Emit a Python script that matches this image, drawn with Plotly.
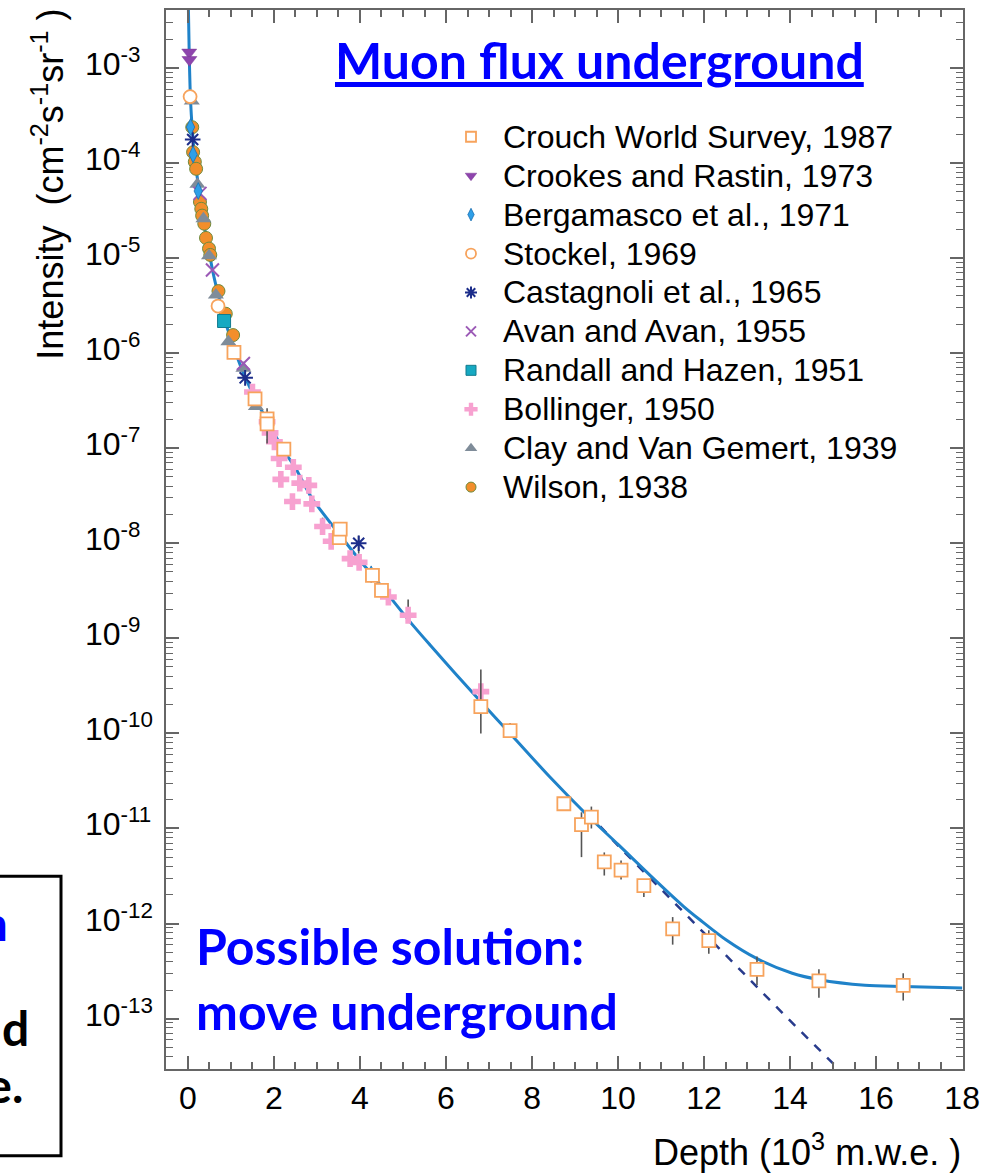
import plotly.graph_objects as go

# ---------------- data ----------------
crouch_x = [1.07, 1.56, 1.84, 1.84, 2.23, 3.52, 3.54, 4.29, 4.50, 6.81, 7.49, 8.74, 9.15, 9.38,
            9.68, 10.07, 10.60, 11.27, 12.11, 13.23, 14.67, 16.63]
crouch_y = [1.02e-6, 3.3e-7, 2.04e-7, 1.8e-7, 9.8e-8, 1.15e-8, 1.41e-8, 4.6e-9, 3.2e-9, 1.91e-10,
            1.07e-10, 1.82e-11, 1.1e-11, 1.32e-11, 4.45e-12, 3.65e-12, 2.5e-12, 8.8e-13, 6.6e-13,
            3.3e-13, 2.5e-13, 2.24e-13]
crouch_hi = [None, None, None, 2.63e-7, None, None, None, None, None, 4.7e-10,
             1.29e-10, 2.0e-11, 1.48e-11, 1.7e-11, 5.6e-12, 4.6e-12, 2.95e-12, 1.17e-12, 8.5e-13,
             4.5e-13, 3.3e-13, 3.0e-13]
crouch_lo = [None, None, None, 1.12e-7, None, None, None, None, None, 1.0e-10,
             9.1e-11, 1.65e-11, 5.0e-12, 1.0e-11, 3.2e-12, 2.9e-12, 1.9e-12, 6.0e-13, 4.8e-13,
             2.24e-13, 1.66e-13, 1.55e-13]

crookes_x = [0.03, 0.035]
crookes_y = [1.46e-3, 1.22e-3]

bergamasco_x = [0.06, 0.12, 0.24, 4.26]
bergamasco_y = [2.39e-4, 1.23e-4, 5.08e-5, 4.72e-9]

stockel_x = [0.05, 0.70]
stockel_y = [5.0e-4, 3.13e-6]

castagnoli_x = [0.11, 1.33, 3.97]
castagnoli_y = [1.77e-4, 5.5e-7, 1.0e-8]
castagnoli_hi = [None, None, 1.2e-8]
castagnoli_lo = [None, None, 7.8e-9]

avan_x = [0.28, 0.57, 1.29]
avan_y = [4.8e-5, 7.5e-6, 7.8e-7]

randall_x = [0.84]
randall_y = [2.18e-6]

bollinger_x = [1.50, 1.84, 1.91, 2.01, 2.12, 2.16, 2.45, 2.60, 2.81, 2.43, 2.88, 3.13, 3.33,
               3.77, 3.98, 4.66, 5.12, 6.81]
bollinger_y = [3.9e-7, 1.9e-7, 1.45e-7, 1.17e-7, 7.8e-8, 4.7e-8, 6.3e-8, 4.3e-8, 4.07e-8,
               2.75e-8, 2.6e-8, 1.5e-8, 1.05e-8, 6.9e-9, 6.3e-9, 2.72e-9, 1.75e-9, 2.75e-10]
bollinger_hi = [None] * 11 + [1.86e-8, None, 7.0e-9, None, None, 2.57e-9, None]
bollinger_lo = [None] * 11 + [1.23e-8, None, 5.75e-9, None, None, 1.51e-9, None]

clay_x = [0.09, 0.22, 0.36, 0.49, 0.65, 0.94, 1.29, 1.58]
clay_y = [4.5e-4, 6.0e-5, 2.6e-5, 1.06e-5, 4.1e-6, 1.32e-6, 6.95e-7, 2.75e-7]

wilson_x = [0.10, 0.12, 0.16, 0.19, 0.28, 0.31, 0.33, 0.38, 0.42, 0.49, 0.52, 0.71, 0.88, 1.05]
wilson_y = [2.38e-4, 1.3e-4, 1.03e-4, 8.7e-5, 3.9e-5, 3.3e-5, 2.8e-5, 2.3e-5, 1.63e-5, 1.26e-5,
            1.08e-5, 4.5e-6, 2.6e-6, 1.55e-6]

fit_x = [0.005, 0.03, 0.06, 0.10, 0.15, 0.20, 0.30, 0.40, 0.50, 0.60, 0.70, 0.85, 1.00, 1.30,
         1.60, 2.00, 2.24, 2.50, 2.88, 3.53, 4.00, 4.31, 5.16, 5.63, 6.21, 6.81, 7.49, 8.41,
         9.25, 10.00, 10.85, 11.52, 11.91, 12.50, 13.22, 14.05, 14.68, 15.74, 16.63, 18.00]
fit_y = [6e-3, 1.4e-3, 4.6e-4, 2.3e-4, 1.25e-4, 8.0e-5, 3.8e-5, 1.9e-5, 1.1e-5, 6.5e-6, 4.2e-6,
         2.3e-6, 1.4e-6, 6.0e-7, 3.1e-7, 1.45e-7, 9.3e-8, 6.2e-8, 3.0e-8, 1.23e-8, 6.6e-9,
         4.5e-9, 1.5e-9, 8.5e-10, 4.3e-10, 2.15e-10, 1.0e-10, 3.5e-11, 1.43e-11, 6.8e-12,
         2.9e-12, 1.52e-12, 1.09e-12, 6.8e-13, 4.3e-13, 3.0e-13, 2.57e-13, 2.25e-13, 2.18e-13,
         2.1e-13]

exp_x = [9.3, 10.0, 11.0, 12.0, 13.0, 14.0, 15.25]
exp_y = [1.45e-11, 6.6e-12, 2.3e-12, 7.9e-13, 2.75e-13, 9.5e-14, 2.6e-14]

legend_names = ["Crouch World Survey, 1987", "Crookes and Rastin, 1973", "Bergamasco et al., 1971",
                "Stockel, 1969", "Castagnoli et al., 1965", "Avan and Avan, 1955",
                "Randall and Hazen, 1951", "Bollinger, 1950", "Clay and Van Gemert, 1939",
                "Wilson, 1938"]

y_decades = [-3, -4, -5, -6, -7, -8, -9, -10, -11, -12, -13]
x_ticks = [0, 2, 4, 6, 8, 10, 12, 14, 16, 18]

# ---------------- styles ----------------
ORANGE = "#f7a35c"
styles = [
    dict(symbol="square", size=13, color="white", line=dict(color=ORANGE, width=1.8)),
    dict(symbol="triangle-down", size=13, color="#8e44ad", line=dict(color="#7a3a96", width=0.5)),
    dict(symbol="diamond-tall", size=12, color="#2e9fe8", line=dict(color="#1b6fb0", width=0.8)),
    dict(symbol="circle", size=13, color="white", line=dict(color=ORANGE, width=1.8)),
    dict(symbol="asterisk-open", size=13, color="#1c2d8a", line=dict(color="#1c2d8a", width=2)),
    dict(symbol="x-thin-open", size=13, color="#9b59b6", line=dict(color="#9b59b6", width=2)),
    dict(symbol="square", size=13, color="#16a9c2", line=dict(color="#127b8e", width=1)),
    dict(symbol="cross", size=14, color="#f7a1d0", line=dict(color="#f7a1d0", width=0)),
    dict(symbol="triangle-up", size=14, color="#7f8c99", line=dict(color="#7f8c99", width=0)),
    dict(symbol="circle", size=13, color="#f28e2b", line=dict(color="#6e8b3d", width=1)),
]

L, R, T, B = 166, 963, 8, 1069
W, H = 998, 1176


def pxx(x):
    return (x - L) / (R - L)


def pxy(y):
    return (B - y) / (B - T)


def errs(y, hi, lo):
    up = [(h - v) if h is not None else 0 for v, h in zip(y, hi)]
    dn = [(v - l) if l is not None else 0 for v, l in zip(y, lo)]
    return dict(type="data", symmetric=False, array=up, arrayminus=dn, color="#555555",
                thickness=1.6, width=0)


fig = go.Figure()

# fit curves
fig.add_trace(go.Scatter(x=exp_x, y=exp_y, mode="lines", line=dict(color="#283b8c", width=2.5, dash="dash"),
                         showlegend=False, hoverinfo="skip"))
fig.add_trace(go.Scatter(x=fit_x, y=fit_y, mode="lines",
                         line=dict(color="#1f82c9", width=3, shape="spline", smoothing=0.8),
                         showlegend=False, hoverinfo="skip"))

series = [
    (crouch_x, crouch_y, errs(crouch_y, crouch_hi, crouch_lo)),
    (crookes_x, crookes_y, None),
    (bergamasco_x, bergamasco_y, None),
    (stockel_x, stockel_y, None),
    (castagnoli_x, castagnoli_y, errs(castagnoli_y, castagnoli_hi, castagnoli_lo)),
    (avan_x, avan_y, None),
    (randall_x, randall_y, None),
    (bollinger_x, bollinger_y, errs(bollinger_y, bollinger_hi, bollinger_lo)),
    (clay_x, clay_y, None),
    (wilson_x, wilson_y, None),
]

for idx in reversed(range(len(series))):
    xs, ys, ey = series[idx]
    tr = go.Scatter(x=xs, y=ys, mode="markers", marker=styles[idx], name=legend_names[idx],
                    showlegend=False)
    if ey is not None:
        tr.error_y = ey
    fig.add_trace(tr)

# custom legend (markers on pixel-space overlay axes)
leg_y0, leg_dy = 135, 39
for i, name in enumerate(legend_names):
    fig.add_trace(go.Scatter(x=[471], y=[leg_y0 + leg_dy * i], xaxis="x2", yaxis="y2", mode="markers",
                             marker=dict(styles[i], size=styles[i]["size"] - 3), showlegend=False,
                             hoverinfo="skip"))

FONT = "Liberation Sans, Arial"
annotations = []
for i, name in enumerate(legend_names):
    annotations.append(dict(x=pxx(501), y=pxy(leg_y0 + leg_dy * i), xref="paper", yref="paper", text=name,
                            showarrow=False, xanchor="left", yanchor="middle",
                            font=dict(family=FONT, size=32, color="black")))

# y tick labels, left aligned
for d in y_decades:
    annotations.append(dict(x=pxx(83), y=d, xref="paper", yref="y", text=f"10<sup>{d}</sup>",
                            showarrow=False, xanchor="left", yanchor="middle", yshift=6,
                            font=dict(family=FONT, size=32, color="black")))

# axis titles
annotations.append(dict(x=pxx(963), y=pxy(1150), xref="paper", yref="paper",
                        text="Depth (10<sup>3</sup> m.w.e. )", showarrow=False, xanchor="right", yanchor="middle",
                        font=dict(family=FONT, size=36, color="black")))
annotations.append(dict(x=pxx(48), y=pxy(183), xref="paper", yref="paper", textangle=-90,
                        text="Intensity  (cm<sup>-2</sup>s<sup>-1</sup>sr<sup>-1</sup> )", showarrow=False,
                        xanchor="center", yanchor="middle",
                        font=dict(family=FONT, size=36, color="black")))

# slide texts
BLUE = "#0000ff"
annotations.append(dict(x=pxx(333), y=pxy(58), xref="paper", yref="paper",
                        text="<b><u>Muon flux underground</u></b>", showarrow=False, xanchor="left",
                        yanchor="middle", font=dict(family="Lato", size=50, color=BLUE)))
annotations.append(dict(x=pxx(194), y=pxy(946), xref="paper", yref="paper",
                        text="<b>Possible solution:</b>", showarrow=False, xanchor="left",
                        yanchor="middle", font=dict(family="Lato", size=50, color=BLUE)))
annotations.append(dict(x=pxx(194), y=pxy(1011), xref="paper", yref="paper",
                        text="<b>move underground</b>", showarrow=False, xanchor="left",
                        yanchor="middle", font=dict(family="Lato", size=50, color=BLUE)))
# cut-off text box on the left edge (only fragments visible)
annotations.append(dict(x=pxx(10), y=pxy(922), xref="paper", yref="paper",
                        text="<b>muon</b>", showarrow=False, xanchor="right",
                        yanchor="middle", font=dict(family="Lato", size=48, color=BLUE)))
annotations.append(dict(x=pxx(31), y=pxy(1027), xref="paper", yref="paper",
                        text="<b>d</b>", showarrow=False, xanchor="right",
                        yanchor="middle", font=dict(family="Lato", size=48, color="black")))
annotations.append(dict(x=pxx(25), y=pxy(1085), xref="paper", yref="paper",
                        text="<b>surface.</b>", showarrow=False, xanchor="right",
                        yanchor="middle", font=dict(family="Lato", size=48, color="black")))

shapes = [dict(type="rect", xref="paper", yref="paper", x0=pxx(-20), x1=pxx(61), y0=pxy(876), y1=pxy(1156),
               line=dict(color="black", width=3), fillcolor="rgba(0,0,0,0)")]

AXC = "#666666"
fig.update_layout(
    width=W, height=H, margin=dict(l=L, r=W - R, t=T, b=H - B),
    paper_bgcolor="white", plot_bgcolor="white", showlegend=False,
    annotations=annotations, shapes=shapes,
    xaxis=dict(range=[-0.51, 18.02], showline=True, linecolor=AXC, linewidth=2, mirror="allticks",
               ticks="inside", ticklen=13, tickwidth=1.5, tickcolor=AXC, tickvals=x_ticks,
               ticktext=[str(v) for v in x_ticks], showgrid=False, zeroline=False,
               tickfont=dict(family=FONT, size=32, color="black"),
               minor=dict(dtick=0.5, tick0=0, ticks="inside", ticklen=7, tickwidth=1.5, tickcolor=AXC)),
    yaxis=dict(type="log", range=[-13.53, -2.39], showline=True, linecolor=AXC, linewidth=2,
               mirror="allticks", ticks="inside", ticklen=13, tickwidth=1.5, tickcolor=AXC,
               dtick=1, showticklabels=False, showgrid=False, zeroline=False,
               minor=dict(dtick="D1", ticks="inside", ticklen=7, tickwidth=1.2, tickcolor=AXC)),
    xaxis2=dict(overlaying="x", range=[L, R], visible=False),
    yaxis2=dict(overlaying="y", range=[B, T], visible=False),
)

fig.write_html("out.html")
